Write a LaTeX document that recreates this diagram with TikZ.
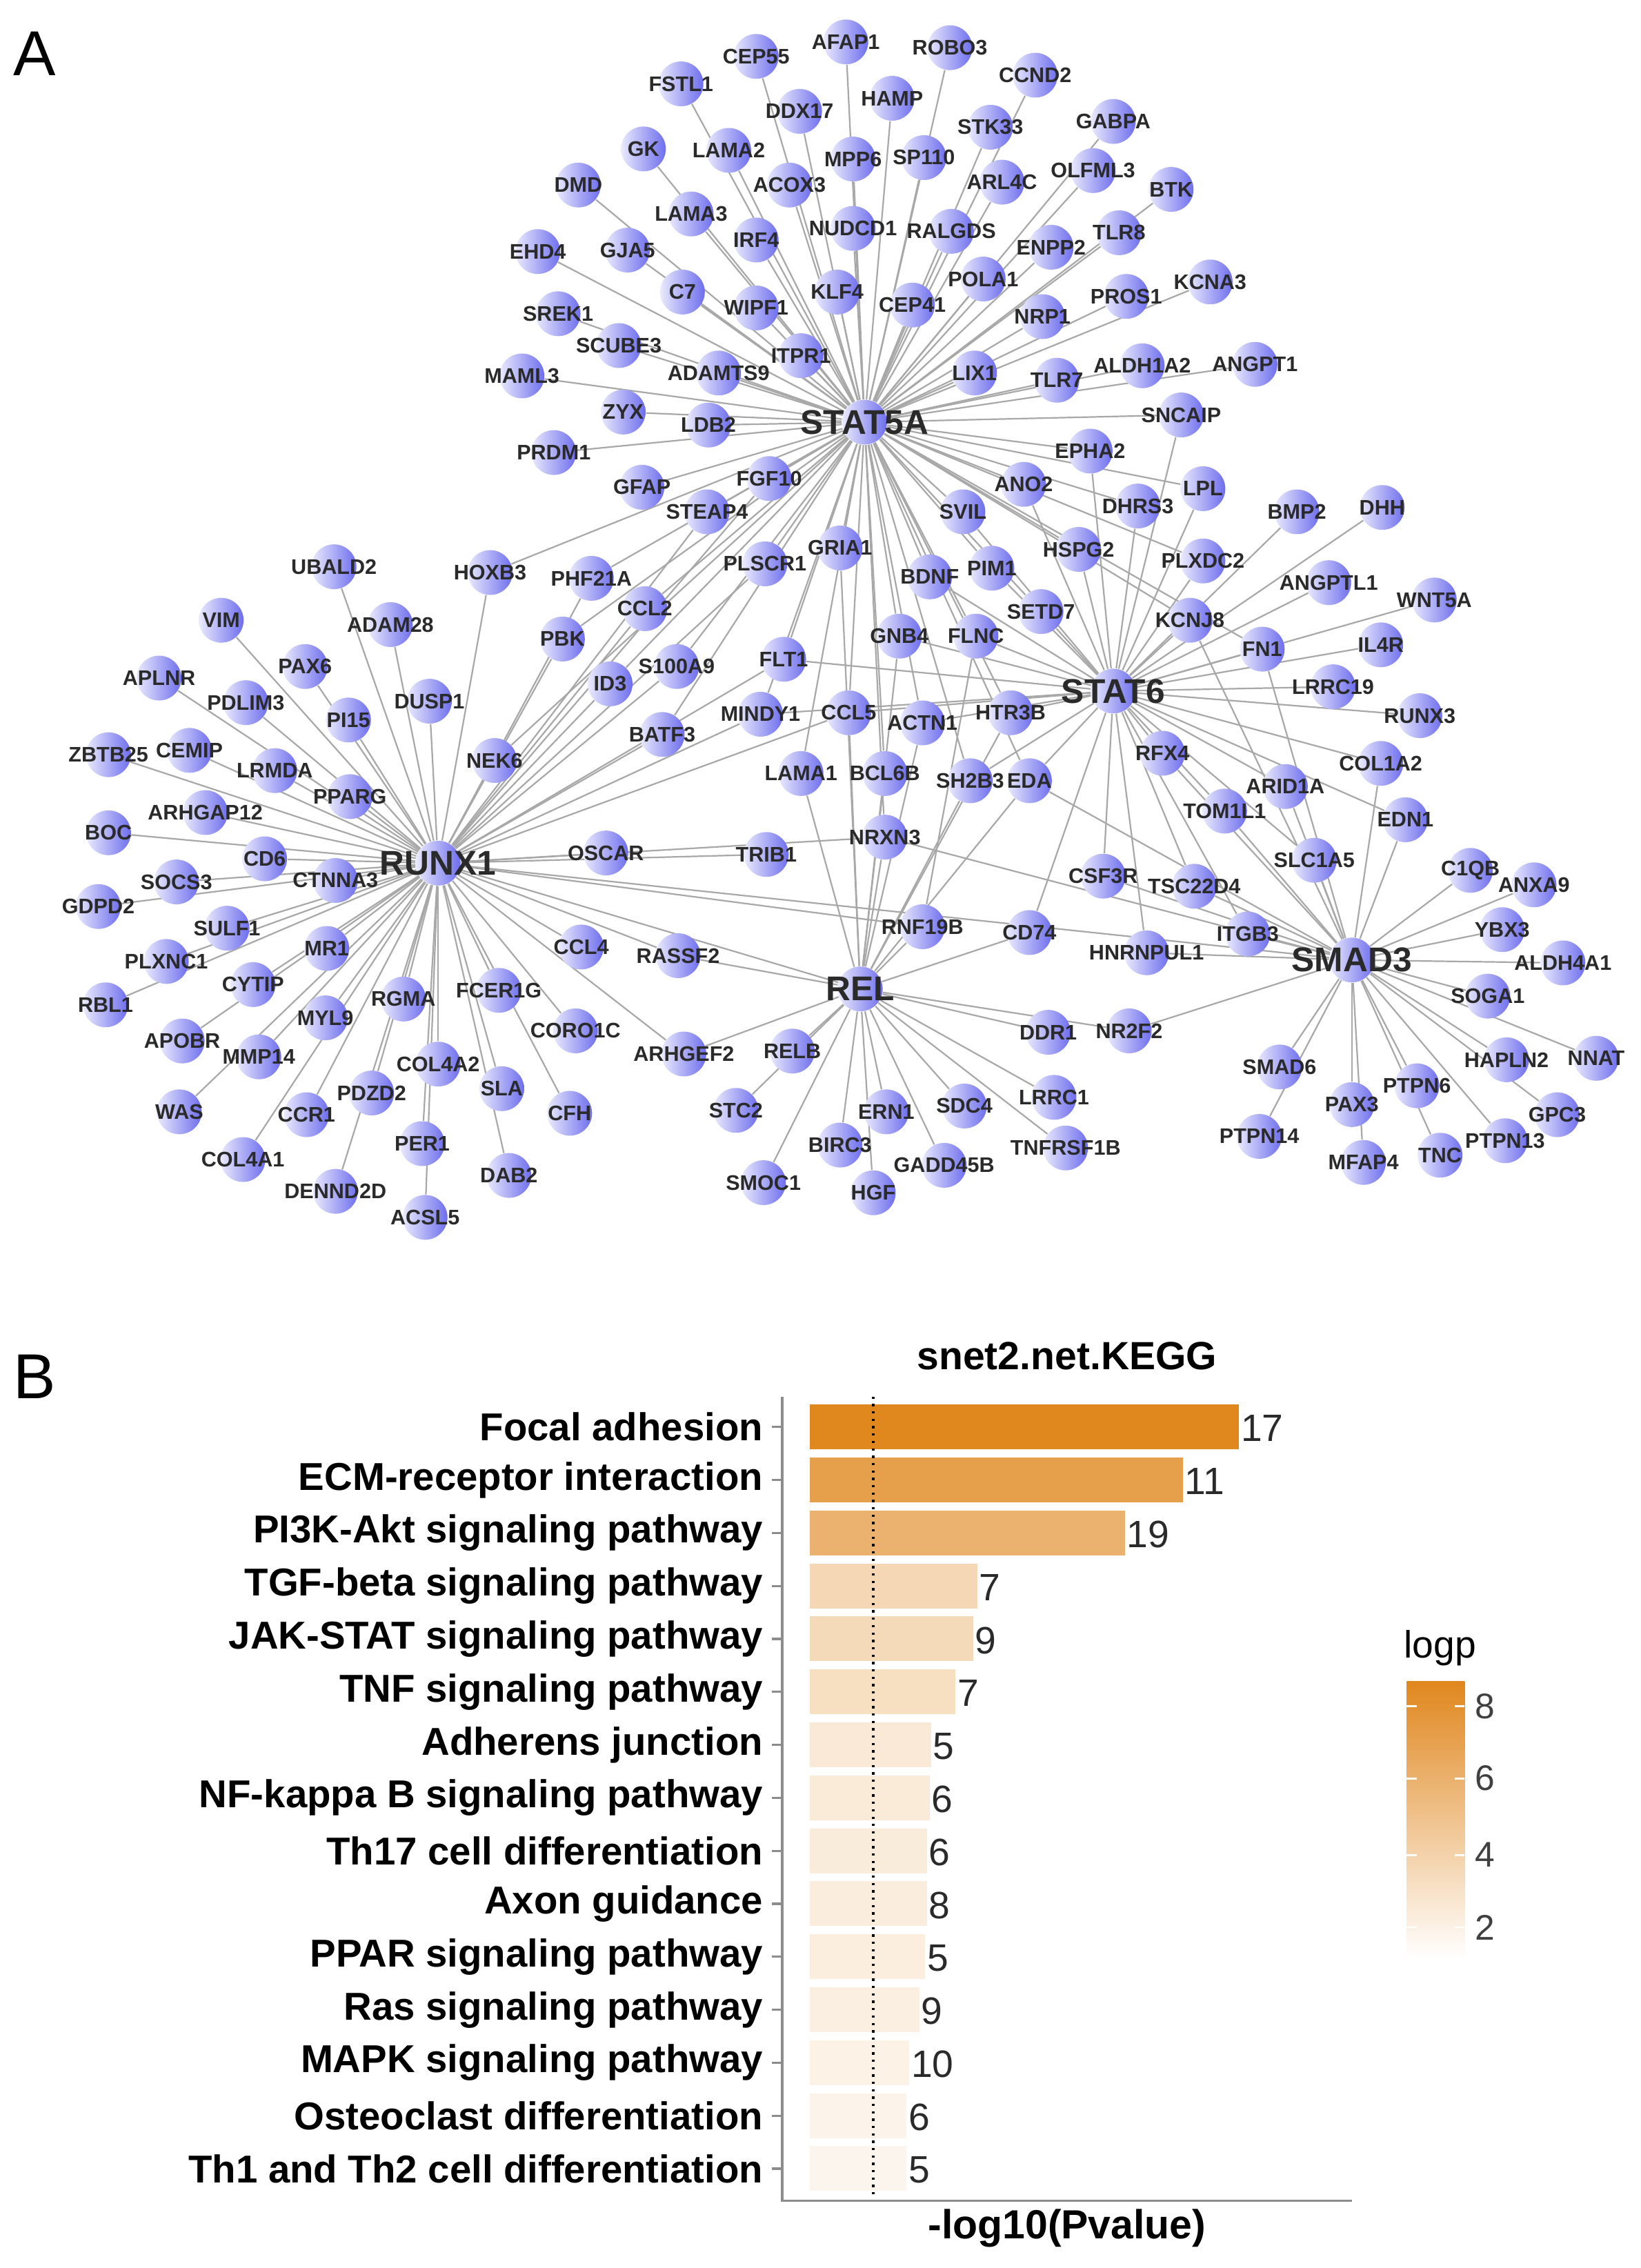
\documentclass[tikz,border=0pt]{standalone}
\usepackage{fontspec}
\setmainfont{Liberation Sans}
\pgfdeclarelayer{bg}
\pgfdeclarelayer{fg}
\pgfsetlayers{bg,main,fg}
\definecolor{lavA}{RGB}{234,234,253}
\definecolor{lavB}{RGB}{110,110,238}
\definecolor{edgec}{RGB}{168,168,168}
\definecolor{lblc}{RGB}{42,42,42}
\definecolor{barorange}{RGB}{224,135,30}
\definecolor{axisc}{RGB}{140,140,140}
\tikzset{
  gene/.style={circle, minimum size=0.62cm, inner sep=0pt, left color=lavA, right color=lavB, draw=none},
  glbl/.style={font=\fontsize{8.3}{9}\selectfont\bfseries, text=lblc, inner sep=0pt},
  hlbl/.style={font=\fontsize{13.5}{15}\selectfont\bfseries, text=lblc, inner sep=0pt},
  edge/.style={draw=edgec, line width=0.6pt},
  rowlbl/.style={font=\fontsize{15.3}{17}\selectfont\bfseries, text=black, inner sep=0pt, anchor=east},
  numlbl/.style={font=\fontsize{15}{17}\selectfont, text=lblc, inner sep=0pt, anchor=west},
  axisline/.style={draw=axisc, line width=0.9pt},
  panel/.style={font=\fontsize{25}{30}\selectfont, inner sep=0pt}
}
\newcommand\genenode[2]{\node[gene] (#1) at (#2) {};\begin{pgfonlayer}{fg}\node[glbl] at (#1) {#1};\end{pgfonlayer}}
\newcommand\hubnode[2]{\node[gene] (#1) at (#2) {};\begin{pgfonlayer}{fg}\node[hlbl] at (#1) {#1};\end{pgfonlayer}}
\begin{document}
\begin{tikzpicture}[x=0.02cm,y=-0.02cm]
\path[use as bounding box] (0,0) rectangle (1135,1568.7);
\begin{pgfonlayer}{bg}
\fill[white] (0,0) rectangle (1135,1568.7);
\end{pgfonlayer}
\node[panel] (panA) at (24,37) {A};
\node[panel] (panB) at (24,952) {B};
% hubs
\hubnode{STAT5A}{598,292}
\hubnode{STAT6}{770,478}
\hubnode{RUNX1}{303,597}
\hubnode{REL}{595,684}
\hubnode{SMAD3}{935,664}
% genes
\genenode{CEP55}{523,39}
\genenode{AFAP1}{585,29}
\genenode{ROBO3}{657,33}
\genenode{CCND2}{716,52}
\genenode{FSTL1}{471,58}
\genenode{HAMP}{617,68}
\genenode{DDX17}{553,77}
\genenode{STK33}{685,88}
\genenode{GABPA}{770,84}
\genenode{GK}{445,103}
\genenode{LAMA2}{504,104}
\genenode{MPP6}{590,110}
\genenode{SP110}{639,109}
\genenode{OLFML3}{756,118}
\genenode{ARL4C}{693,126}
\genenode{BTK}{810,131}
\genenode{DMD}{400,128}
\genenode{ACOX3}{546,128}
\genenode{LAMA3}{478,148}
\genenode{NUDCD1}{590,158}
\genenode{RALGDS}{658,160}
\genenode{TLR8}{774,161}
\genenode{IRF4}{523,166}
\genenode{EHD4}{372,174}
\genenode{GJA5}{434,173}
\genenode{ENPP2}{727,171}
\genenode{POLA1}{680,193}
\genenode{KCNA3}{837,195}
\genenode{C7}{472,202}
\genenode{KLF4}{579,202}
\genenode{PROS1}{779,205}
\genenode{CEP41}{631,211}
\genenode{WIPF1}{523,213}
\genenode{SREK1}{386,217}
\genenode{NRP1}{721,219}
\genenode{SCUBE3}{428,239}
\genenode{ITPR1}{554,246}
\genenode{ADAMTS9}{497,258}
\genenode{MAML3}{361,260}
\genenode{LIX1}{674,258}
\genenode{TLR7}{731,263}
\genenode{ALDH1A2}{790,253}
\genenode{ANGPT1}{868,252}
\genenode{ZYX}{431,285}
\genenode{LDB2}{490,294}
\genenode{SNCAIP}{817,287}
\genenode{PRDM1}{383,313}
\genenode{EPHA2}{754,312}
\genenode{GFAP}{444,337}
\genenode{FGF10}{532,331}
\genenode{ANO2}{708,335}
\genenode{LPL}{832,338}
\genenode{DHRS3}{787,350}
\genenode{BMP2}{897,354}
\genenode{DHH}{956,351}
\genenode{STEAP4}{489,354}
\genenode{SVIL}{666,354}
\genenode{GRIA1}{581,379}
\genenode{HSPG2}{746,380}
\genenode{PLXDC2}{832,388}
\genenode{PLSCR1}{529,390}
\genenode{UBALD2}{231,392}
\genenode{HOXB3}{339,396}
\genenode{PHF21A}{409,400}
\genenode{BDNF}{643,399}
\genenode{PIM1}{686,393}
\genenode{ANGPTL1}{919,403}
\genenode{WNT5A}{992,415}
\genenode{CCL2}{446,421}
\genenode{SETD7}{720,423}
\genenode{KCNJ8}{823,429}
\genenode{VIM}{153,429}
\genenode{ADAM28}{270,432}
\genenode{PBK}{389,442}
\genenode{GNB4}{622,440}
\genenode{FLNC}{675,440}
\genenode{IL4R}{955,446}
\genenode{FN1}{873,449}
\genenode{FLT1}{542,456}
\genenode{S100A9}{468,461}
\genenode{PAX6}{211,461}
\genenode{APLNR}{110,469}
\genenode{ID3}{422,473}
\genenode{LRRC19}{922,475}
\genenode{DUSP1}{297,485}
\genenode{PDLIM3}{170,486}
\genenode{MINDY1}{526,494}
\genenode{CCL5}{587,493}
\genenode{HTR3B}{699,493}
\genenode{RUNX3}{982,495}
\genenode{PI15}{241,498}
\genenode{ACTN1}{638,500}
\genenode{BATF3}{458,508}
\genenode{CEMIP}{131,519}
\genenode{ZBTB25}{75,522}
\genenode{RFX4}{804,521}
\genenode{NEK6}{342,526}
\genenode{COL1A2}{955,528}
\genenode{LRMDA}{190,533}
\genenode{LAMA1}{554,535}
\genenode{BCL6B}{612,535}
\genenode{SH2B3}{671,540}
\genenode{EDA}{712,540}
\genenode{ARID1A}{889,544}
\genenode{PPARG}{242,551}
\genenode{ARHGAP12}{142,562}
\genenode{TOM1L1}{847,561}
\genenode{EDN1}{972,567}
\genenode{BOC}{75,576}
\genenode{NRXN3}{612,579}
\genenode{OSCAR}{419,590}
\genenode{TRIB1}{530,591}
\genenode{CD6}{183,594}
\genenode{SLC1A5}{909,595}
\genenode{C1QB}{1017,602}
\genenode{CSF3R}{763,606}
\genenode{CTNNA3}{232,609}
\genenode{SOCS3}{122,610}
\genenode{ANXA9}{1061,612}
\genenode{TSC22D4}{826,613}
\genenode{GDPD2}{68,627}
\genenode{RNF19B}{638,641}
\genenode{SULF1}{157,642}
\genenode{YBX3}{1039,643}
\genenode{CD74}{712,645}
\genenode{ITGB3}{863,646}
\genenode{CCL4}{402,655}
\genenode{MR1}{226,656}
\genenode{HNRNPUL1}{793,659}
\genenode{RASSF2}{469,661}
\genenode{PLXNC1}{115,665}
\genenode{ALDH4A1}{1081,666}
\genenode{CYTIP}{175,681}
\genenode{FCER1G}{345,685}
\genenode{SOGA1}{1029,689}
\genenode{RGMA}{279,691}
\genenode{RBL1}{73,695}
\genenode{MYL9}{225,704}
\genenode{CORO1C}{398,713}
\genenode{NR2F2}{781,713}
\genenode{DDR1}{725,714}
\genenode{APOBR}{126,720}
\genenode{RELB}{548,727}
\genenode{ARHGEF2}{473,729}
\genenode{MMP14}{179,731}
\genenode{NNAT}{1104,732}
\genenode{HAPLN2}{1042,733}
\genenode{COL4A2}{303,736}
\genenode{SMAD6}{885,738}
\genenode{PTPN6}{980,751}
\genenode{SLA}{347,753}
\genenode{PDZD2}{257,756}
\genenode{LRRC1}{729,759}
\genenode{PAX3}{935,764}
\genenode{SDC4}{667,765}
\genenode{STC2}{509,768}
\genenode{WAS}{124,769}
\genenode{ERN1}{613,769}
\genenode{CFH}{394,770}
\genenode{CCR1}{212,771}
\genenode{GPC3}{1077,771}
\genenode{PTPN14}{871,786}
\genenode{PTPN13}{1041,789}
\genenode{PER1}{292,791}
\genenode{BIRC3}{581,792}
\genenode{TNFRSF1B}{737,794}
\genenode{TNC}{996,799}
\genenode{COL4A1}{168,802}
\genenode{MFAP4}{943,804}
\genenode{GADD45B}{653,806}
\genenode{DAB2}{352,813}
\genenode{SMOC1}{528,818}
\genenode{DENND2D}{232,824}
\genenode{HGF}{604,825}
\genenode{ACSL5}{294,842}
% edges
\begin{pgfonlayer}{bg}
\foreach \n in {CEP55,AFAP1,ROBO3,CCND2,FSTL1,HAMP,DDX17,STK33,GK,LAMA2,MPP6,SP110,ARL4C,DMD,ACOX3,LAMA3,NUDCD1,RALGDS,IRF4,EHD4,GJA5,ENPP2,POLA1,C7,KLF4,CEP41,WIPF1,SREK1,NRP1,SCUBE3,ITPR1,ADAMTS9,MAML3,LIX1,TLR7,ZYX,LDB2,PRDM1,GABPA,OLFML3,BTK,TLR8,KCNA3,PROS1,ALDH1A2,ANGPT1,SNCAIP,EPHA2,LPL,DHRS3,ANO2,SVIL,HSPG2,PLXDC2,KCNJ8,FN1,PIM1,SETD7,BDNF,FLNC,GNB4,GRIA1,PLSCR1,FGF10,STEAP4,GFAP,HOXB3,PHF21A,PBK,CCL2,ID3,S100A9,BATF3,NEK6,FLT1,MINDY1,CCL5,ACTN1,HTR3B,SH2B3,EDA,LAMA1,BCL6B,NRXN3}
  \draw[edge] (STAT5A) -- (\n);
\foreach \n in {HOXB3,PHF21A,PBK,CCL2,ID3,S100A9,BATF3,NEK6,FLT1,MINDY1,PLSCR1,STEAP4,FGF10,OSCAR,TRIB1,NRXN3,RNF19B,RASSF2,CCL4,ARHGEF2,CORO1C,CFH,SLA,DAB2,FCER1G,COL4A2,PER1,ACSL5,PDZD2,DENND2D,CCR1,COL4A1,RGMA,MYL9,MMP14,WAS,APOBR,CYTIP,MR1,RBL1,PLXNC1,SULF1,GDPD2,SOCS3,CTNNA3,CD6,BOC,ARHGAP12,ZBTB25,CEMIP,LRMDA,APLNR,PDLIM3,VIM,PAX6,PI15,PPARG,UBALD2,ADAM28,DUSP1,CCL5,REL,SMAD3}
  \draw[edge] (RUNX1) -- (\n);
\foreach \n in {SNCAIP,EPHA2,LPL,DHRS3,ANO2,SVIL,HSPG2,PLXDC2,KCNJ8,BMP2,DHH,ANGPTL1,WNT5A,FN1,IL4R,LRRC19,RUNX3,COL1A2,RFX4,ARID1A,TOM1L1,EDN1,SLC1A5,TSC22D4,CSF3R,ITGB3,HNRNPUL1,CD74,EDA,SH2B3,HTR3B,ACTN1,CCL5,MINDY1,FLT1,FLNC,SETD7,PIM1,BDNF,GNB4}
  \draw[edge] (STAT6) -- (\n);
\foreach \n in {GRIA1,LAMA1,BCL6B,GNB4,CCL5,ACTN1,SH2B3,EDA,HTR3B,NRXN3,RNF19B,CD74,DDR1,NR2F2,LRRC1,TNFRSF1B,SDC4,GADD45B,ERN1,HGF,BIRC3,SMOC1,STC2,RELB,ARHGEF2,RASSF2}
  \draw[edge] (REL) -- (\n);
\foreach \n in {KCNJ8,FN1,RFX4,ARID1A,TOM1L1,EDN1,SLC1A5,COL1A2,TSC22D4,CSF3R,ITGB3,HNRNPUL1,EDA,NRXN3,NR2F2,C1QB,ANXA9,YBX3,ALDH4A1,SOGA1,NNAT,HAPLN2,GPC3,PTPN13,TNC,PTPN6,MFAP4,PAX3,PTPN14,SMAD6}
  \draw[edge] (SMAD3) -- (\n);
\draw[edge] (FLNC) -- (RNF19B);
\end{pgfonlayer}
% ---------------- panel B ----------------
\node[font=\fontsize{15.5}{17}\selectfont\bfseries, inner sep=0pt] (title) at (738,938) {snet2.net.KEGG};
\foreach \lab/\bx/\num/\pc [count=\i from 0] in {
  Focal adhesion/857/17/100,
  ECM-receptor interaction/818/11/80,
  PI3K-Akt signaling pathway/778/19/64,
  TGF-beta signaling pathway/676/7/33,
  JAK-STAT signaling pathway/673/9/31,
  TNF signaling pathway/661/7/27,
  Adherens junction/644/5/18,
  NF-kappa B signaling pathway/643/6/17,
  Th17 cell differentiation/641/6/16,
  Axon guidance/641/8/15,
  PPAR signaling pathway/640/5/14,
  Ras signaling pathway/636/9/13,
  MAPK signaling pathway/629/10/11,
  Osteoclast differentiation/627/6/9,
  Th1 and Th2 cell differentiation/627/5/8}{
  \pgfmathsetmacro\yy{987+36.64*\i}
  \fill[barorange!\pc!white] (560,{\yy-15.5}) rectangle (\bx,{\yy+15.5});
  \node[rowlbl] (row\i) at (528,\yy) {\lab};
  \draw[axisline] (534,\yy) -- (541,\yy);
  \node[numlbl] (num\i) at ({\bx+1},{\yy+1}) {\num};
}
\draw[dotted, line width=0.9pt, black] (604,966) -- (604,1522);
\draw[axisline] (541,966) -- (541,1522) -- (935,1522);
\node[font=\fontsize{16}{18}\selectfont\bfseries, inner sep=0pt] (xlab) at (738,1541) {-log10(Pvalue)};
% legend
\node[font=\fontsize{15}{17}\selectfont, inner sep=0pt] (legt) at (996,1140) {logp};
\shade[top color=barorange, bottom color=white] (973,1163) rectangle (1013,1355);
\foreach \v/\yy in {8/1180,6/1230,4/1283,2/1333}{
  \draw[white, line width=0.8pt] (973,\yy) -- (980,\yy);
  \draw[white, line width=0.8pt] (1006,\yy) -- (1013,\yy);
  \node[font=\fontsize{14}{16}\selectfont, text=black!75, anchor=west, inner sep=0pt] at (1020,\yy) {\v};
}
\end{tikzpicture}
\end{document}
